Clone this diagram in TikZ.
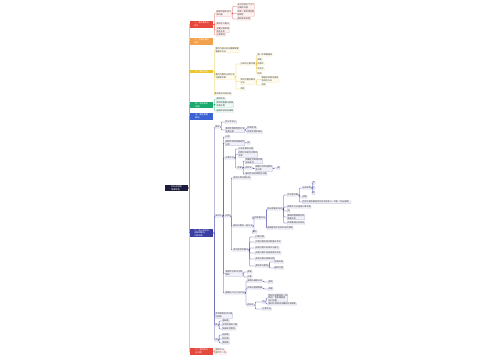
\documentclass[tikz,border=0pt]{standalone}
\usepackage{fontspec}
\newfontfamily\cjk{Noto Sans CJK SC}
\usepackage{tikz}
\definecolor{redc}{HTML}{E5483C}
\definecolor{orng}{HTML}{F2A14B}
\definecolor{yelw}{HTML}{EDC52C}
\definecolor{gren}{HTML}{1AAA6C}
\definecolor{blu}{HTML}{3C62D4}
\definecolor{purp}{HTML}{3B3EA3}
\definecolor{rootc}{HTML}{1C1C3E}

\begin{document}
\begin{tikzpicture}[x=1pt, y=-1pt,
    txt/.style={font=\cjk\fontsize{2.1}{2.7}\selectfont, align=left},
    mainbox/.style={txt, text=white, fill=#1, anchor=west, minimum width=23pt, inner sep=0.8pt},
    kid/.style={txt, text=black!75, draw=#1!45, fill=#1!7, line width=0.2pt, rounded corners=0.4pt, anchor=west, inner sep=0.4pt},
    pl/.style={draw=#1, line width=0.3pt, rounded corners=0.6pt}]
    \useasboundingbox[fill=white] (0,0) rectangle (500,360);

    \node [txt, text=white, fill=rootc, minimum width=23pt, inner sep=0.8pt] (root) at (176.5,188) {知识点梳理\\思维导图};

    \node [mainbox=redc] (B1) at (190,24.5) {一、基本概念与\\定义};
    \node [mainbox=orng] (B2) at (190,41.5) {二、主要内容与\\特点};
    \node [mainbox=yelw] (B3) at (190,71.5) {三、重点分析};
    \node [mainbox=gren] (B4) at (190,105) {四、相关知识\\拓展};
    \node [mainbox=blu] (B5) at (190,116.5) {五、典型例题\\解析};
    \node [mainbox=purp] (B6) at (190,233) {六、核心知识点\\详细讲解与\\归纳总结};
    \node [mainbox=redc] (B7) at (190,351.5) {七、课后练习\\与巩固};

    % red
    \node [kid=redc] (r1) at (216,13.5) {概念的基本含义\\和内容};
    \node [kid=redc] (r1a) at (237,6.5) {含义包括以下几个\\方面的内容};
    \node [kid=redc] (r1b) at (237,13.5) {具有一定的特征和\\规律性};
    \node [kid=redc] (r1c) at (237,19) {其他相关说明};
    \node [kid=redc] (r2) at (216,24) {基本定义要点};
    \node [kid=redc] (r3) at (216,30) {主要分类及其\\相互关系};
    \node [kid=redc] (r4) at (216,35) {注意事项};

    % yellow
    \node [kid=yelw] (y1) at (215,50) {重点内容分析与理解需要\\掌握的方法};
    \node [kid=yelw] (y2) at (215,76.5) {重点问题的分析方法\\与解题步骤};
    \node [kid=yelw] (y2a) at (240,64) {分析的主要步骤};
    \node [kid=yelw] (ya1) at (257,55) {第一步明确题意};
    \node [kid=yelw] (ya2) at (257,60) {审题};
    \node [kid=yelw] (ya3) at (257,64) {找条件};
    \node [kid=yelw] (ya4) at (257,69) {列式子};
    \node [kid=yelw] (ya5) at (257,74) {检验};
    \node [kid=yelw] (y2b) at (240,81.5) {常见问题的解决\\方法};
    \node [kid=yelw] (yb1) at (261,79.5) {根据实际情况选择\\合适的方法};
    \node [kid=yelw] (yb2) at (261,85) {总结};
    \node [kid=yelw] (y2c) at (240,89) {其他};
    \node [kid=yelw] (y3) at (214,94) {重点难点归纳总结};

    % green
    \node [kid=gren] (g1) at (216,99) {相关知识};
    \node [kid=gren] (g2) at (216,104.5) {知识的拓展与延伸\\及其应用};
    \node [kid=gren] (g3) at (216,111) {拓展阅读材料推荐};

    % purple
    \node [kid=purp] (p1) at (215,127) {概念};
    \node [kid=purp] (p1a) at (225,122) {定义及含义};
    \node [kid=purp] (p1b) at (225,130) {基本性质和判定方法\\及其应用};
    \node [kid=purp] (p1b1) at (247,128) {性质定理};
    \node [kid=purp] (p1b2) at (247,132) {判定定理及推论};
    \node [kid=purp] (p2) at (215,216) {知识点};
    \node [kid=purp] (q1) at (225,137) {分类};
    \node [kid=purp] (q2) at (225,143) {按照不同的标准进行\\分类};
    \node [kid=purp] (q2a) at (247,143) {例};
    \node [kid=purp] (q3) at (225,158) {计算方法};
    \node [kid=purp] (q3a) at (238,149) {公式及推导过程};
    \node [kid=purp] (q3b) at (238,154.5) {运用公式进行计算的\\步骤};
    \node [kid=purp] (q3c) at (237,168) {步骤};
    \node [kid=purp] (q3c1) at (245,161) {先确定已知条件和\\未知条件};
    \node [kid=purp] (q3c2) at (245,168) {再列式};
    \node [kid=purp] (q3c2a) at (255,168.5) {根据公式列出算式\\并计算};
    \node [kid=purp] (q3c2b) at (277,168) {解};
    \node [kid=purp] (q3c3) at (245,174) {最后检验结果是否正确};
    \node [kid=purp] (q4) at (225,216) {应用};
    \node [kid=purp] (s1) at (233,178) {实际应用问题分析};
    \node [kid=purp] (s2) at (233,226) {解决问题的一般方法};
    \node [kid=purp] (t1) at (252,218) {分析数量关系};
    \node [kid=purp] (u1) at (267,209) {找出等量关系式};
    \node [kid=purp] (v1) at (287,195) {列方程求解};
    \node [kid=purp] (w1) at (302,188) {设未知数};
    \node [kid=purp] (x1) at (312,183) {甲};
    \node [kid=purp] (x2) at (312,188) {乙};
    \node [kid=purp] (x3) at (312,193) {丙};
    \node [kid=purp] (w2) at (302,197) {求解};
    \node [kid=purp] (w3) at (302,202) {检验方程的解是否符合实际意义—作答（写出答案）};
    \node [kid=purp] (v2) at (287,207) {用算术方法直接计算求解};
    \node [kid=purp] (v3) at (287,211) {或};
    \node [kid=purp] (v4) at (287,217) {画线段图帮助分析\\数量关系};
    \node [kid=purp] (v5) at (287,223) {列表整理已知信息};
    \node [kid=purp] (u2) at (267,228) {根据题目中的条件逐步推理};
    \node [kid=purp] (t2) at (252,232) {其他};
    \node [kid=purp] (s3) at (233,250) {常见题型及解法};
    \node [kid=purp] (z1) at (255,237) {行程问题};
    \node [kid=purp] (z2) at (255,242) {工程问题的基本数量关系式};
    \node [kid=purp] (z3) at (255,248) {利润问题中的成本与售价};
    \node [kid=purp] (z4) at (255,253) {浓度问题中溶液溶质的关系};
    \node [kid=purp] (z5) at (255,259) {年龄问题与和差问题};
    \node [kid=purp] (z6) at (255,266) {其他常见题型};
    \node [kid=purp] (z6a) at (274,262) {鸡兔同笼};
    \node [kid=purp] (z6b) at (274,268) {植树问题};
    \node [kid=purp] (q5) at (225,273.5) {易错点分析与注意\\事项};
    \node [kid=purp] (q5a) at (247,272) {审题};
    \node [kid=purp] (q5b) at (247,277) {计算};
    \node [kid=purp] (q6) at (225,293) {解题技巧与方法总结};
    \node [kid=purp] (q6a) at (247,281) {画图法辅助分析};
    \node [kid=purp] (q6a1) at (268,282) {直观};
    \node [kid=purp] (q6b) at (247,288) {列表法整理数据};
    \node [kid=purp] (q6b1) at (268,289) {清晰};
    \node [kid=purp] (q6c) at (247,305) {假设法};
    \node [kid=purp] (q6c1) at (262,302) {例};
    \node [kid=purp] (q6c1a) at (268,298) {假设全部都是同一种\\情况，再根据差值\\进行调整};
    \node [kid=purp] (q6c1b) at (268,304) {通过比较得出正确结论和答案};
    \node [kid=purp] (q6c2) at (262,309) {注意验证};
    \node [kid=purp] (p3) at (215,315.5) {本节课知识点小结\\与回顾};
    \node [kid=purp] (p4) at (215,325) {练};
    \node [kid=purp] (p4a) at (222,321) {基础题};
    \node [kid=purp] (p4b) at (222,325) {综合提高练习题};
    \node [kid=purp] (p4c) at (222,329) {拓展探究题目};
    \node [kid=purp] (p5) at (215,340) {测};
    \node [kid=purp] (p5a) at (222,335) {选择题};
    \node [kid=purp] (p5b) at (222,339) {填空题};
    \node [kid=purp] (p5c) at (222,343) {解答题};

    % red, bottom
    \node [kid=redc] (k1) at (215,350) {课后作业};
    \node [kid=redc] (k2) at (215,353) {预习下一节};

    % trunk
    \foreach \b/\c in {B1/redc, B2/orng, B3/yelw, B4/gren, B5/blu, B6/purp, B7/redc}
        \draw [pl=\c] (root.east) -- ++(1,0) |- (\b.west);

    \foreach \p/\c/\k in {B1/redc/{r1,r2,r3,r4}, r1/redc/{r1a,r1b,r1c},
        B3/yelw/{y1,y2,y3}, y2/yelw/{y2a,y2b,y2c}, y2a/yelw/{ya1,ya2,ya3,ya4,ya5}, y2b/yelw/{yb1,yb2},
        B4/gren/{g1,g2,g3}, B7/redc/{k1,k2},
        B6/purp/{p1,p2,p3,p4,p5}, p1/purp/{p1a,p1b}, p1b/purp/{p1b1,p1b2},
        p2/purp/{q1,q2,q3,q4,q5,q6}, q2/purp/{q2a}, q3/purp/{q3a,q3b,q3c},
        q3c/purp/{q3c1,q3c2,q3c3}, q3c2/purp/{q3c2a}, q3c2a/purp/{q3c2b},
        q4/purp/{s1,s2,s3}, s2/purp/{t1,t2}, t1/purp/{u1,u2}, u1/purp/{v1,v2,v3,v4,v5},
        v1/purp/{w1,w2,w3}, w1/purp/{x1,x2,x3}, s3/purp/{z1,z2,z3,z4,z5,z6}, z6/purp/{z6a,z6b},
        q5/purp/{q5a,q5b}, q6/purp/{q6a,q6b,q6c}, q6a/purp/{q6a1}, q6b/purp/{q6b1},
        q6c/purp/{q6c1,q6c2}, q6c1/purp/{q6c1a,q6c1b}, p4/purp/{p4a,p4b,p4c}, p5/purp/{p5a,p5b,p5c}}
        \foreach \k in \k
            \draw [pl=\c] (\p.east) -- ++(1,0) |- (\k.west);
\end{tikzpicture}
\end{document}
